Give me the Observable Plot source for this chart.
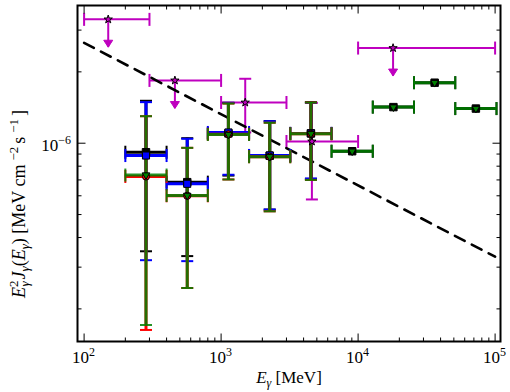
<!DOCTYPE html>
<html>
<head>
<meta charset="utf-8">
<script src="https://cdn.jsdelivr.net/npm/d3@7"></script>
<script src="https://cdn.jsdelivr.net/npm/@observablehq/plot@0.6"></script>
<style>
  html, body { margin: 0; padding: 0; background: #fff; }
</style>
</head>
<body>
<div id="chart"></div>
<script>
// ---- Data ----
const eLo  = [200, 400, 800, 1600, 3200, 6400, 12800, 25600, 51200];
const eHi  = [400, 800, 1600, 3200, 6400, 12800, 25600, 51200, 102400];
const eMid = [283, 566, 1131, 2263, 4525, 9051, 18102, 36204, 72408];

const blackY  = [9.16e-7, 6.85e-7, 1.10e-6, 8.85e-7, 1.10e-6, 9.25e-7, 1.42e-6, 1.80e-6, 1.40e-6];
const blackLo = [3.50e-7, 3.34e-7, 7.30e-7, 5.25e-7, 7.07e-7, null, null, null, null];
const blackHi = [1.51e-6, 1.05e-6, 1.48e-6, 1.24e-6, 1.49e-6, null, null, null, null];

const blueY  = [8.87e-7, 6.74e-7, 1.11e-6, 8.88e-7, 1.10e-6, null, null, null, null];
const blueLo = [3.21e-7, 3.18e-7, 7.36e-7, 5.25e-7, 7.10e-7, null, null, null, null];
const blueHi = [1.49e-6, 1.044e-6, 1.48e-6, 1.238e-6, 1.48e-6, null, null, null, null];

const redY  = [7.24e-7, 6.00e-7, 1.09e-6, 8.77e-7, 1.095e-6, null, null, null, null];
const redLo = [1.63e-7, 2.45e-7, 7.03e-7, 5.16e-7, 7.00e-7, null, null, null, null];
const redHi = [1.30e-6, 9.56e-7, 1.47e-6, 1.22e-6, 1.485e-6, null, null, null, null];

const greenY  = [7.34e-7, 6.02e-7, 1.088e-6, 8.77e-7, 1.096e-6, 9.25e-7, 1.42e-6, 1.80e-6, 1.40e-6];
const greenLo = [1.71e-7, 2.45e-7, 7.03e-7, 5.16e-7, 7.00e-7, null, null, null, null];
const greenHi = [1.30e-6, 9.56e-7, 1.47e-6, 1.22e-6, 1.485e-6, null, null, null, null];

// magenta points (upper limits and two measurements)
const magX   = [150, 460, 1500, 4600, 18000];
const magXLo = [100, 300, 1000, 3000, 10000];
const magXHi = [300, 1000, 3000, 10000, 100000];
const magY   = [3.33e-6, 1.84e-6, 1.485e-6, 1.017e-6, 2.52e-6];
const magYLo = [null, null, 1.11e-6, 5.79e-7, null];
const magYHi = [null, null, 1.87e-6, 1.48e-6, null];
const magUL  = [2.54e-6, 1.40e-6, null, null, 1.92e-6]; // upper-limit arrow tips

// dashed model line
const modelX = [100, 100000];
const modelY = [2.65e-6, 3.32e-7];

// ticks
const xMajor = [100, 1000, 10000, 100000];
const xExp   = ["2", "3", "4", "5"];
const xMinor = [200,300,400,500,600,700,800,900,2000,3000,4000,5000,6000,7000,8000,9000,
                20000,30000,40000,50000,60000,70000,80000,90000];
const yMajor = [1e-6];
const yExp   = ["\u22126"];
const yMinor = [2e-7,3e-7,4e-7,5e-7,6e-7,7e-7,8e-7,9e-7,2e-6,3e-6];

// ---- helpers ----
function rows(y, lo, hi) {
  return eMid.map((x, i) => ({x, xlo: eLo[i], xhi: eHi[i], y: y[i], ylo: lo[i], yhi: hi[i]}))
             .filter(d => d.y != null);
}
const sym = f => ({draw: f});
const hcap = sym(c => { c.moveTo(-6, 0); c.lineTo(6, 0); });
const vcap = sym(c => { c.moveTo(0, -6.5); c.lineTo(0, 6.5); });
const triDown = sym((c, size) => {
  const y = -Math.sqrt(size / (Math.sqrt(3) * 3));
  c.moveTo(0, -2 * y); c.lineTo(Math.sqrt(3) * y, y); c.lineTo(-Math.sqrt(3) * y, y); c.closePath();
});
const arrowHead = sym(c => { c.moveTo(0, 0); c.lineTo(-4.5, -7); c.lineTo(4.5, -7); c.closePath(); });
const tk = (dx, dy) => sym(c => { c.moveTo(0, 0); c.lineTo(dx, dy); });

const MAG = "#bf00bf";
const series = [
  {d: rows(blackY, blackLo, blackHi), color: "#000000", op: 1},
  {d: rows(blueY, blueLo, blueHi), color: "#0000ff", op: 1},
  {d: rows(redY, redLo, redHi), color: "#ff0000", op: 1},
  {d: rows(greenY, greenLo, greenHi), color: "#008000", op: 0.85}
];

function barMarks(s) {
  const withErr = s.d.filter(d => d.ylo != null);
  return [
    Plot.ruleY(s.d, {y: "y", x1: "xlo", x2: "xhi", stroke: s.color, strokeOpacity: s.op, strokeWidth: 3}),
    Plot.ruleX(withErr, {x: "x", y1: "ylo", y2: "yhi", stroke: s.color, strokeOpacity: s.op, strokeWidth: 3}),
    Plot.dot(withErr, {x: "x", y: "ylo", symbol: hcap, r: 3, fill: "none", stroke: s.color, strokeOpacity: s.op, strokeWidth: 2}),
    Plot.dot(withErr, {x: "x", y: "yhi", symbol: hcap, r: 3, fill: "none", stroke: s.color, strokeOpacity: s.op, strokeWidth: 2}),
    Plot.dot(s.d, {x: "xlo", y: "y", symbol: vcap, r: 3, fill: "none", stroke: s.color, strokeOpacity: s.op, strokeWidth: 2}),
    Plot.dot(s.d, {x: "xhi", y: "y", symbol: vcap, r: 3, fill: "none", stroke: s.color, strokeOpacity: s.op, strokeWidth: 2})
  ];
}

const mag = magX.map((x, i) => ({x, xlo: magXLo[i], xhi: magXHi[i], y: magY[i], ylo: magYLo[i], yhi: magYHi[i], ul: magUL[i]}));
const magErr = mag.filter(d => d.ylo != null);
const magUl = mag.filter(d => d.ul != null);

const plot = Plot.plot({
  width: 510,
  height: 392,
  marginLeft: 77,
  marginRight: 10,
  marginTop: 5,
  marginBottom: 51,
  x: {type: "log", domain: [89.5, 109500], axis: null},
  y: {type: "log", domain: [1.457e-7, 3.81e-6], axis: null},
  style: {fontFamily: "Liberation Serif, serif", background: "#fff"},
  marks: [
    // magenta bars (below)
    Plot.ruleY(mag, {y: "y", x1: "xlo", x2: "xhi", stroke: MAG, strokeWidth: 2}),
    Plot.dot(mag, {x: "xlo", y: "y", symbol: vcap, r: 3, fill: "none", stroke: MAG, strokeWidth: 2}),
    Plot.dot(mag, {x: "xhi", y: "y", symbol: vcap, r: 3, fill: "none", stroke: MAG, strokeWidth: 2}),
    Plot.ruleX(magErr, {x: "x", y1: "ylo", y2: "yhi", stroke: MAG, strokeWidth: 2}),
    Plot.dot(magErr, {x: "x", y: "ylo", symbol: hcap, r: 3, fill: "none", stroke: MAG, strokeWidth: 2}),
    Plot.dot(magErr, {x: "x", y: "yhi", symbol: hcap, r: 3, fill: "none", stroke: MAG, strokeWidth: 2}),
    Plot.ruleX(magUl, {x: "x", y1: "y", y2: "ul", stroke: MAG, strokeWidth: 2}),
    Plot.dot(magUl, {x: "x", y: "ul", symbol: arrowHead, r: 3, fill: MAG, stroke: MAG, strokeWidth: 1}),
    // dashed model
    Plot.line(modelX.map((x, i) => ({x, y: modelY[i]})), {x: "x", y: "y", stroke: "#000", strokeWidth: 2.6, strokeDasharray: "11,8"}),
    // colored series bars
    ...series.flatMap(barMarks),
    // markers
    Plot.dot(series[0].d, {x: "x", y: "y", symbol: "square", r: 4.2, fill: "#000", stroke: "#000", strokeWidth: 1}),
    Plot.dot(series[1].d, {x: "x", y: "y", symbol: "square", r: 4, fill: "#0000ff", stroke: "#000", strokeWidth: 1}),
    Plot.dot(series[2].d, {x: "x", y: "y", symbol: "circle", r: 3.6, fill: "#ff0000", stroke: "#000", strokeWidth: 1}),
    Plot.dot(series[3].d, {x: "x", y: "y", symbol: triDown, r: 2.8, fill: "#008000", stroke: "#000", strokeWidth: 1}),
    // magenta stars on top
    Plot.dot(mag, {x: "x", y: "y", symbol: "star", r: 2.6, fill: MAG, stroke: "#000", strokeWidth: 1}),
    // frame
    Plot.frame({stroke: "#000", strokeWidth: 2}),
    // inward ticks
    Plot.dot(xMajor, {x: d => d, frameAnchor: "bottom", symbol: tk(0, -8), r: 3, fill: "none", stroke: "#000", strokeWidth: 1}),
    Plot.dot(xMinor, {x: d => d, frameAnchor: "bottom", symbol: tk(0, -4), r: 3, fill: "none", stroke: "#000", strokeWidth: 1}),
    Plot.dot(xMajor, {x: d => d, frameAnchor: "top", symbol: tk(0, 8), r: 3, fill: "none", stroke: "#000", strokeWidth: 1}),
    Plot.dot(xMinor, {x: d => d, frameAnchor: "top", symbol: tk(0, 4), r: 3, fill: "none", stroke: "#000", strokeWidth: 1}),
    Plot.dot(yMajor, {y: d => d, frameAnchor: "left", symbol: tk(8, 0), r: 3, fill: "none", stroke: "#000", strokeWidth: 1}),
    Plot.dot(yMinor, {y: d => d, frameAnchor: "left", symbol: tk(4, 0), r: 3, fill: "none", stroke: "#000", strokeWidth: 1}),
    Plot.dot(yMajor, {y: d => d, frameAnchor: "right", symbol: tk(-8, 0), r: 3, fill: "none", stroke: "#000", strokeWidth: 1}),
    Plot.dot(yMinor, {y: d => d, frameAnchor: "right", symbol: tk(-4, 0), r: 3, fill: "none", stroke: "#000", strokeWidth: 1})
  ]
});

document.getElementById("chart").appendChild(plot);

// ---- text labels (real SVG text, positioned with Plot's scales) ----
const svg = d3.select(plot);
const xs = plot.scale("x"), ys = plot.scale("y");
const FONT = "'Liberation Serif', 'Times New Roman', serif";

xMajor.forEach((v, i) => {
  const t = svg.append("text")
    .attr("x", xs.apply(v)).attr("y", 363)
    .attr("text-anchor", "middle")
    .style("font-family", FONT).style("font-size", "17px").attr("fill", "#000");
  t.append("tspan").text("10");
  t.append("tspan").attr("dy", -7).style("font-size", "12px").text(xExp[i]);
});
yMajor.forEach((v, i) => {
  const t = svg.append("text")
    .attr("x", 71).attr("y", ys.apply(v) + 8)
    .attr("text-anchor", "end")
    .style("font-family", FONT).style("font-size", "17px").attr("fill", "#000");
  t.append("tspan").text("10");
  t.append("tspan").attr("dy", -7).style("font-size", "12px").text(yExp[i]);
});

// x axis title
{
  const t = svg.append("text")
    .attr("x", 289).attr("y", 383)
    .attr("text-anchor", "middle")
    .style("font-family", FONT).style("font-size", "17px").attr("fill", "#000");
  t.append("tspan").style("font-style", "italic").text("E");
  t.append("tspan").style("font-style", "italic").style("font-size", "12px").attr("dy", 4).text("γ");
  t.append("tspan").attr("dy", -4).text(" [MeV]");
}
// y axis title
{
  const t = svg.append("text")
    .attr("transform", "translate(25,204) rotate(-90)")
    .attr("text-anchor", "middle")
    .style("font-family", FONT).style("font-size", "18px").attr("fill", "#000");
  t.append("tspan").style("font-style", "italic").text("E");
  t.append("tspan").style("font-size", "13px").attr("dy", -7).text("2");
  t.append("tspan").style("font-size", "13px").style("font-style", "italic").attr("dx", -6).attr("dy", 11).text("γ");
  t.append("tspan").style("font-style", "italic").attr("dy", -4).attr("dx", 2).text("J");
  t.append("tspan").style("font-size", "13px").style("font-style", "italic").attr("dy", 4).text("γ");
  t.append("tspan").attr("dy", -4).text("(");
  t.append("tspan").style("font-style", "italic").text("E");
  t.append("tspan").style("font-size", "13px").style("font-style", "italic").attr("dy", 4).text("γ");
  t.append("tspan").attr("dy", -4).text(") [MeV cm");
  t.append("tspan").style("font-size", "13px").attr("dy", -7).attr("dx", 4).text("\u22122");
  t.append("tspan").attr("dy", 7).attr("dx", 3).text("s");
  t.append("tspan").style("font-size", "13px").attr("dy", -7).attr("dx", 4).text("\u22121");
  t.append("tspan").attr("dy", 7).attr("dx", 3).text("]");
}
</script>
</body>
</html>
